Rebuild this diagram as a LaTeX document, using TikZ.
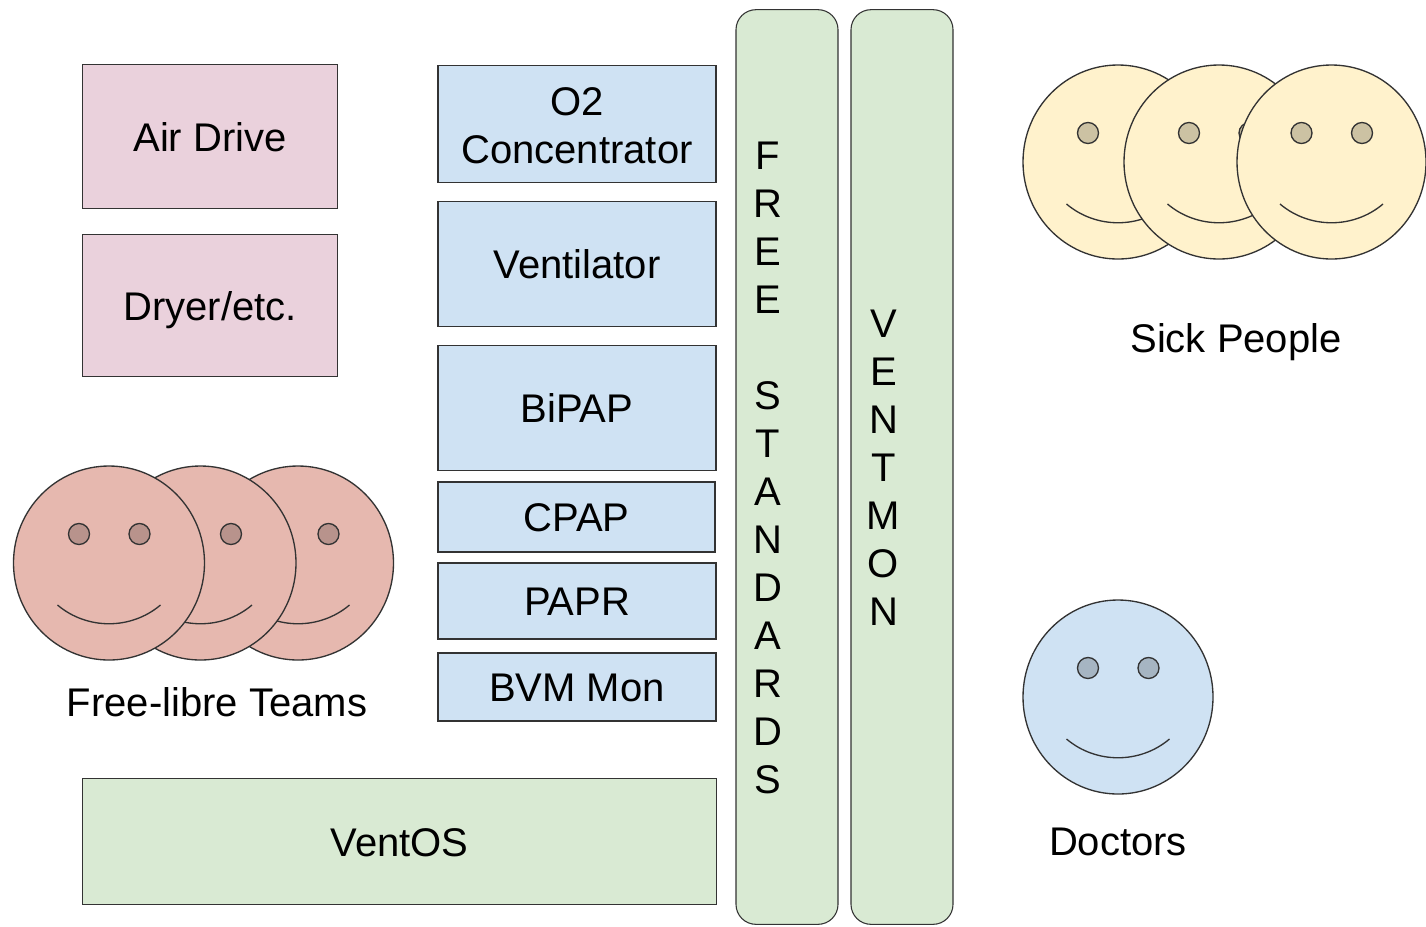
\documentclass[tikz,border=0pt]{standalone}
\usepackage{fontspec}
\usetikzlibrary{shapes.geometric}
\setmainfont{Liberation Sans}
\definecolor{pinkf}{HTML}{EAD1DC}
\definecolor{bluef}{HTML}{CFE2F3}
\definecolor{greenf}{HTML}{D9EAD3}
\definecolor{yellowf}{HTML}{FFF2CC}
\definecolor{redf}{HTML}{E6B8AF}
\definecolor{edge}{HTML}{333333}
\newcommand{\faceat}[5]{%
 \node[facebody,fill=#4,minimum width=#5*0.75pt] (#1) at (#2,-#3) {};
 \begin{scope}[shift={(#2,-#3)}]
  \filldraw[eye,fill=#4!80!black] (-30,29) circle (10.5);
  \filldraw[eye,fill=#4!80!black] (30.5,29) circle (10.5);
  \draw[mouth] (-51.5,-42) .. controls (-22,-67) and (22,-67) .. (51.5,-42);
 \end{scope}}
\tikzset{
 x=0.75pt,y=0.75pt,
 lab/.style={font=\fontsize{30}{36}\selectfont,text=black,inner sep=0pt,align=center},
 oneline/.style={lab,text height=22pt,text depth=0pt},
 rbox/.style={draw=edge,line width=0.8pt,oneline},
 pinkbox/.style={rbox,fill=pinkf},
 bluebox/.style={rbox,fill=bluef},
 greenbox/.style={rbox,fill=greenf},
 barbox/.style={greenbox,rounded corners=15pt},
 facebody/.style={ellipse,draw=edge,line width=1pt,minimum height=145.5pt,inner sep=0pt},
 eye/.style={draw=edge,line width=1pt},
 mouth/.style={draw=edge,line width=1pt},
}
\begin{document}
\begin{tikzpicture}
\useasboundingbox[fill=white] (0,0) rectangle (1426,-926);
\node[pinkbox,minimum width=191.5pt,minimum height=107.5pt] (air) at (210,-136.5) {Air Drive};
\node[pinkbox,minimum width=191.5pt,minimum height=106.5pt] (dryer) at (210,-305.5) {Dryer/etc.};
\node[bluebox,minimum width=208.5pt,minimum height=88pt] (o2) at (577,-124) {};
\node[lab] (o2t) at (577,-125.5) {O2\\Concentrator};
\node[bluebox,minimum width=208.5pt,minimum height=94pt] (vent) at (577,-264) {Ventilator};
\node[bluebox,minimum width=208.5pt,minimum height=94pt] (bipap) at (577,-408) {BiPAP};
\node[bluebox,minimum width=207.75pt,minimum height=52.5pt] (cpap) at (576.5,-517) {CPAP};
\node[bluebox,minimum width=208.5pt,minimum height=57pt] (papr) at (577,-601) {PAPR};
\node[bluebox,minimum width=208.5pt,minimum height=51pt] (bvm) at (577,-687) {BVM Mon};
\node[greenbox,minimum width=475.5pt,minimum height=95pt] (ventos) at (399.5,-841.5) {VentOS};
\node[barbox,minimum width=76.5pt,minimum height=686pt] (free) at (787,-467) {};
\node[lab] (freet) at (767.5,-468) {F\\R\\E\\E\\[36pt]S\\T\\A\\N\\D\\A\\R\\D\\S};
\node[barbox,minimum width=76.5pt,minimum height=686pt] (mon) at (902,-467) {};
\node[lab] (mont) at (883.5,-468) {V\\E\\N\\T\\M\\O\\N};
\faceat{t3}{298}{563}{redf}{191}
\faceat{t2}{200.5}{563}{redf}{191}
\faceat{t1}{109}{563}{redf}{191}
\faceat{s1}{1118}{162}{yellowf}{190}
\faceat{s2}{1219}{162}{yellowf}{190}
\faceat{s3}{1331.5}{162}{yellowf}{189}
\faceat{d1}{1118}{697}{bluef}{190}
\node[oneline] (teams) at (217,-702) {Free-libre Teams};
\node[oneline] (sick) at (1236,-338) {Sick People};
\node[oneline] (doc) at (1118,-840.5) {Doctors};
\end{tikzpicture}
\end{document}
